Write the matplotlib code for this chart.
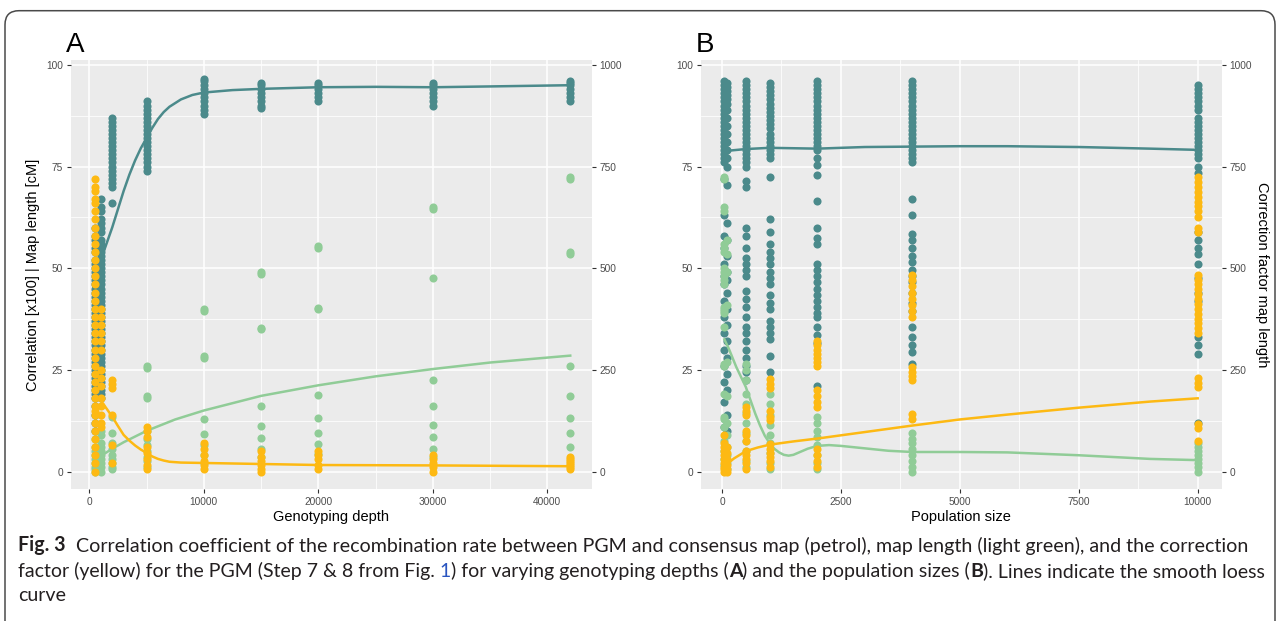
import matplotlib
matplotlib.use("Agg")
import matplotlib.pyplot as plt
from matplotlib.patches import FancyBboxPatch
from matplotlib.ticker import FixedLocator

plt.rcParams['font.family'] = ['Liberation Sans', 'DejaVu Sans']

PETROL = '#4b8a8b'
GREEN = '#90cc97'
YELLOW = '#fdb913'

# ---- panel A: genotyping depth ----
depth = [500, 1000, 2000, 5000, 10000, 15000, 20000, 30000, 42000]
corr_a = [
    [60, 58, 57, 55, 54, 52, 51, 50, 49, 48, 47, 46, 45, 44, 43, 42, 41, 40, 39, 38, 37, 36, 35, 34,
     33, 32, 31, 30, 29, 28, 27, 26, 25, 24, 23, 22, 21, 20, 19, 18, 16, 14, 12, 10],
    [67, 65, 64, 62, 61, 60, 59, 57, 56, 55, 54, 53, 52, 51, 50, 49, 48, 47, 46, 45, 44, 43, 42, 41,
     40, 39, 38, 37, 36, 35, 34, 33, 32, 31, 30, 29, 28, 27, 26, 25, 24, 23, 22, 21, 20, 19, 18],
    [87, 86, 85, 84, 83, 82, 81, 80, 79, 78, 77, 76, 75, 74, 73, 72, 71, 70, 66],
    [91, 90, 89, 88, 87, 86, 85, 84, 83, 82, 81, 80, 79, 78, 77, 76, 75, 74],
    [96.5, 96, 95, 94, 93, 92, 91, 90, 89, 88],
    [95.5, 95, 94, 93, 92, 91, 90, 89.5],
    [95.5, 95, 94, 93, 92, 91],
    [95.5, 95, 94, 93, 92, 91, 90],
    [96, 95.5, 95, 94, 93, 92, 91],
]
maplen_a = [
    [8, 6, 5, 4, 3, 2, 1, 0.5, 0],
    [10, 9, 7, 6, 5, 4, 3, 2, 1, 0],
    [13.5, 9.5, 7, 5.5, 4, 3, 2, 1, 0.5],
    [26, 25.5, 18.5, 18, 10, 8, 6.5, 5, 3.5, 2.5, 1],
    [40, 39.5, 28.5, 28, 13, 9.3, 6.5, 4, 2],
    [49, 48.5, 35.2, 35, 16, 11.3, 8.3, 5.6, 3.5],
    [55.5, 55, 40.2, 40, 18.7, 13.2, 9.5, 6.8, 4.2],
    [65, 64.5, 47.5, 22.5, 16, 11.5, 8.5, 5.5, 3.5],
    [72.5, 72, 54, 53.5, 26, 18.5, 13.2, 9.5, 6],
]
corrfac_a = [
    [720, 700, 690, 670, 660, 640, 620, 600, 580, 560, 540, 520, 500, 480, 460, 440, 420, 400, 380,
     360, 340, 320, 300, 280, 260, 240, 220, 200, 180, 160, 150, 140, 120, 100, 80, 60, 40, 20, 0],
    [400, 380, 360, 340, 320, 300, 250, 230, 210, 180, 160, 140, 120, 110],
    [225, 215, 205, 140, 65, 20],
    [110, 100, 85, 60, 45, 30, 15, 5],
    [70, 55, 40, 25, 15, 5],
    [50, 35, 25, 15, 5, 0],
    [50, 40, 30, 15, 5],
    [40, 30, 20, 10, 0],
    [35, 30, 25, 20, 15, 10, 5],
]
# loess curves
corr_a_fit_x = [1000, 1500, 2000, 2500, 3000, 3500, 4000, 4500, 5000, 5500, 6000, 6500, 7000, 8000,
                9000, 10000, 12500, 15000, 20000, 25000, 30000, 35000, 42000]
corr_a_fit_y = [52, 56, 60, 64.5, 69, 73, 76.5, 79.5, 82, 84.5, 86.7, 88.4, 89.7, 91.5, 92.6, 93.2,
                93.8, 94.1, 94.5, 94.6, 94.5, 94.7, 95]
maplen_a_fit_x = [1000, 2000, 3000, 5000, 7500, 10000, 15000, 20000, 25000, 30000, 35000, 42000]
maplen_a_fit_y = [3.8, 5.6, 7.2, 10, 12.8, 15, 18.6, 21.2, 23.4, 25.2, 26.8, 28.5]
corrfac_a_fit_x = [1000, 1500, 2000, 2500, 3000, 3500, 4000, 4500, 5000, 5500, 6000, 6500, 7000,
                   8000, 10000, 20000, 30000, 42000]
corrfac_a_fit_y = [175, 155, 135, 112, 90, 76, 64, 54, 46, 37, 31, 27, 24, 22, 21, 16, 15, 13]

# ---- panel B: population size ----
popsize = [50, 100, 500, 1000, 2000, 4000, 10000]
corr_b = [
    [96, 95, 94, 93, 92, 91, 90, 89, 88, 87, 86, 85, 84, 83, 82, 81, 80, 79, 78, 77, 76, 72, 63, 58,
     55, 51, 48, 46, 42, 38, 34, 30, 26, 22, 17, 11],
    [95.5, 94.5, 93.5, 92.5, 91.5, 90.5, 89, 87, 85, 83, 81, 79, 77, 75, 70.5, 61, 57, 53, 49, 47,
     44, 40, 36, 32, 28, 24, 20, 14, 10],
    [96, 95, 94, 93, 92, 91, 90, 89, 88, 87, 86, 85, 84, 83, 82, 81, 80, 79, 78, 77, 76, 75, 71.5,
     70, 60, 58, 55, 52.5, 51, 49.5, 48, 44.5, 42.5, 40.5, 38, 35.5, 34, 32, 30, 28, 26, 24.5, 22.5],
    [95.5, 94.5, 93.5, 92.5, 91.5, 90.5, 89.5, 88.5, 87.5, 86.5, 85.5, 84.5, 83, 82, 81, 80, 79, 78,
     77, 72.5, 62, 59, 56, 54, 52.5, 51, 49, 47.5, 46, 43.5, 41.5, 40, 37, 35.5, 34, 32.5, 28.5, 24.5],
    [96, 95, 94, 93, 92, 91, 90, 89, 88, 87, 86, 85, 84, 83, 82, 81, 80, 79, 77, 75.5, 73, 66.5, 60,
     57.5, 56, 51, 49.5, 48, 46.5, 45, 43.5, 42, 40.5, 39, 38, 35.5, 33.5, 31.5, 21],
    [96, 95, 94, 93, 92, 91, 90, 89, 88, 87, 86, 85, 84, 83, 82, 81, 80, 79, 78, 77, 76, 67, 63,
     58.5, 57, 55, 53, 51.5, 49.5, 48, 46.5, 44, 41.5, 39.5, 35.5, 33, 31, 29.5, 26.5],
    [95, 94, 93, 92, 91, 90, 89, 87, 86, 85, 84, 83, 82, 81, 80, 79, 78, 77, 75, 73.5, 59, 57, 55,
     53.5, 51, 47.5, 44, 42, 33, 31, 29, 12],
]
maplen_b = [
    [72.5, 72, 65, 64, 56, 55, 54, 50, 49, 48, 47, 46, 40.5, 40, 39.5, 39, 35.5, 26.5, 26, 19, 13.5,
     13, 11, 7.5, 5, 3, 1.5],
    [57, 53.5, 49, 41, 27, 18.5, 12, 9, 6, 4, 2, 0.5],
    [26.5, 25, 22.5, 19, 16.5, 14.5, 12, 9.5, 7.5, 5, 2.5, 1],
    [19, 16.5, 14, 11.5, 9, 7, 4.5, 2, 0.5],
    [13.5, 12, 10, 8.5, 6.5, 4, 2, 0.5],
    [9.5, 8, 7, 5.5, 4, 2.5, 1, 0],
    [7, 6, 5, 4, 3, 2, 1, 0],
]
corrfac_b = [
    [90, 70, 60, 50, 40, 30, 20, 10, 5, 0],
    [60, 45, 30, 15, 5, 0],
    [158, 150, 138, 100, 90, 76, 50, 40, 30, 20, 7],
    [228, 215, 205, 150, 135, 126, 68, 55, 45, 35, 25, 10],
    [322, 310, 300, 290, 280, 270, 260, 200, 185, 170, 158, 55, 40, 25, 10],
    [483, 470, 455, 440, 425, 410, 395, 380, 257, 245, 235, 224, 142, 130],
    [724, 712, 700, 688, 676, 664, 652, 640, 625, 600, 588, 484, 472, 460, 448, 436, 424, 412, 400,
     388, 376, 364, 352, 340, 230, 218, 208, 118, 106, 74],
]
corr_b_fit_x = [50, 500, 1000, 1500, 2000, 3000, 4000, 5000, 6000, 7500, 9000, 10000]
corr_b_fit_y = [78.8, 79.3, 79.6, 79.5, 79.4, 79.8, 79.9, 80, 80, 79.8, 79.4, 79.1]
maplen_b_fit_x = [50, 150, 300, 500, 600, 700, 800, 900, 1000, 1100, 1200, 1300, 1400, 1500, 1600,
                  1800, 2000, 2250, 2500, 3000, 3500, 4000, 5000, 6000, 7500, 9000, 10000]
maplen_b_fit_y = [32.5, 30, 25.7, 20.8, 17.5, 14.2, 11.3, 8.8, 7.0, 5.6, 4.7, 4.1, 3.9, 4.1, 4.6,
                  5.6, 6.3, 6.5, 6.3, 5.7, 5.1, 4.8, 4.8, 4.7, 4.0, 3.1, 2.8]
corrfac_b_fit_x = [50, 250, 500, 750, 1000, 1500, 2000, 2500, 3000, 4000, 5000, 6000, 7500, 9000,
                   10000]
corrfac_b_fit_y = [13, 32, 50, 59, 66, 74, 81, 89, 97, 113, 128, 140, 157, 172, 180]

left_ticks = [0, 25, 50, 75, 100]
right_ticks = [0, 250, 500, 750, 1000]

fig = plt.figure(figsize=(12.8, 6.21), dpi=100)
W, H = 1280, 621


def draw_panel(rect, xs, corr, maplen, corrfac, fits, xlim, xticks, xminor, xlabel):
    ax = fig.add_axes(rect)
    ax.set_facecolor('#ebebeb')
    ax.set_axisbelow(True)
    for x, vals in zip(xs, corr):
        ax.scatter([x] * len(vals), vals, s=34, color=PETROL, linewidths=0, zorder=2)
    for x, vals in zip(xs, maplen):
        ax.scatter([x] * len(vals), vals, s=34, color=GREEN, linewidths=0, zorder=2)
    ax.plot(fits[0], fits[1], color=PETROL, lw=1.8, zorder=3)
    ax.plot(fits[2], fits[3], color=GREEN, lw=1.8, zorder=3)
    ax.set_xlim(xlim)
    ax.set_ylim(-4.3, 101.2)
    ax.set_xticks(xticks)
    ax.set_yticks(left_ticks)
    ax.xaxis.set_minor_locator(FixedLocator(xminor))
    ax.yaxis.set_minor_locator(FixedLocator([12.5, 37.5, 62.5, 87.5]))
    ax.grid(which='major', color='white', lw=1.1)
    ax.grid(which='minor', color='white', lw=0.55)
    ax.tick_params(which='minor', length=0)
    ax.tick_params(which='major', length=2.7, width=0.8, color='#333333',
                   labelcolor='#4d4d4d', labelsize=7.3, pad=2.8)
    ax.set_xlabel(xlabel, fontsize=10.5, va='center')
    ax.xaxis.set_label_coords(0.5, -(517 - 489) / 429)
    for s in ax.spines.values():
        s.set_visible(False)

    ax2 = ax.twinx()
    for x, vals in zip(xs, corrfac):
        ax2.scatter([x] * len(vals), vals, s=34, color=YELLOW, linewidths=0, zorder=2)
    ax2.plot(fits[4], fits[5], color=YELLOW, lw=1.8, zorder=3)
    ax2.set_ylim(-43, 1012)
    ax2.set_yticks(right_ticks)
    ax2.tick_params(length=2.7, width=0.8, color='#333333',
                    labelcolor='#4d4d4d', labelsize=7.3, pad=2.8)
    for s in ax2.spines.values():
        s.set_visible(False)
    return ax, ax2


def frac_rect(x0, x1, y0, y1):
    return [x0 / W, 1 - y1 / H, (x1 - x0) / W, (y1 - y0) / H]


axA, axA2 = draw_panel(frac_rect(70.7, 592, 60, 489), depth, corr_a, maplen_a, corrfac_a,
                       [corr_a_fit_x, corr_a_fit_y, maplen_a_fit_x, maplen_a_fit_y,
                        corrfac_a_fit_x, corrfac_a_fit_y],
                       (-1624, 43900), [0, 10000, 20000, 30000, 40000],
                       [5000, 15000, 25000, 35000], 'Genotyping depth')
axA.set_ylabel('Correlation [x100] | Map length [cM]', fontsize=10.5, va='center')
axA.yaxis.set_label_coords(-(70.7 - 33) / 521.3, 0.5)

axB, axB2 = draw_panel(frac_rect(700.7, 1221.7, 60, 489), popsize, corr_b, maplen_b, corrfac_b,
                       [corr_b_fit_x, corr_b_fit_y, maplen_b_fit_x, maplen_b_fit_y,
                        corrfac_b_fit_x, corrfac_b_fit_y],
                       (-448, 10505), [0, 2500, 5000, 7500, 10000],
                       [1250, 3750, 6250, 8750], 'Population size')
axB2.set_ylabel('Correction factor map length', fontsize=10.5, rotation=270, va='center')
axB2.yaxis.set_label_coords(1 + (1262 - 1221.7) / 521, 0.5)

fig.text(75.5 / W, 1 - 52 / H, 'A', fontsize=20, ha='center', va='baseline')
fig.text(705 / W, 1 - 52 / H, 'B', fontsize=20, ha='center', va='baseline')

# rounded frame around the figure
frame = FancyBboxPatch((5, -30), 1270, H - 10.7 + 30, boxstyle='round,pad=0,rounding_size=14',
                       transform=None, fill=False, edgecolor='#4a4a4a', lw=1.1)
fig.add_artist(frame)

# caption
cap = fig.add_axes([0, 0, 1, 1])
cap.axis('off')
cap.set_zorder(-1)
CAPF = ['Lato', 'DejaVu Sans']
TXT = '#231f20'
lines = [
    [('Fig. 3', {'weight': 'bold'}),
     ('  Correlation coefficient of the recombination rate between PGM and consensus map (petrol), '
      'map length (light green), and the correction', {})],
    [('factor (yellow) for the PGM (Step 7 & 8 from Fig. ', {}), ('1', {'color': '#2a55c0'}),
     (') for varying genotyping depths (', {}), ('A', {'weight': 'bold'}),
     (') and the population sizes (', {}), ('B', {'weight': 'bold'}),
     ('). Lines indicate the smooth loess', {})],
    [('curve', {})],
]
line_bottoms = [555, 580, 604]
line_right = [1245, 1257, None]
line_texts = []
for pieces, yb in zip(lines, line_bottoms):
    prev = None
    group = []
    for s, kw in pieces:
        opts = dict(fontsize=12, family=CAPF, color=TXT, va='bottom', ha='left')
        opts.update(kw)
        if prev is None:
            t = cap.text(18 / W, 1 - yb / H, s, transform=cap.transAxes, **opts)
        else:
            t = cap.annotate(s, xy=(1, 0), xycoords=prev, **opts)
        group.append(t)
        prev = t
    line_texts.append(group)

# fit each justified line to its measured width
fig.canvas.draw()
r = fig.canvas.get_renderer()
scales = []
for group, right in zip(line_texts, line_right):
    if right is None:
        continue
    x1 = group[-1].get_window_extent(r).x1
    scales.append((right - 18) / (x1 - 18))
for group, sc in zip(line_texts, scales + [scales[0]]):
    for t in group:
        t.set_fontsize(12 * sc)

fig.savefig('out.png', dpi=100)
